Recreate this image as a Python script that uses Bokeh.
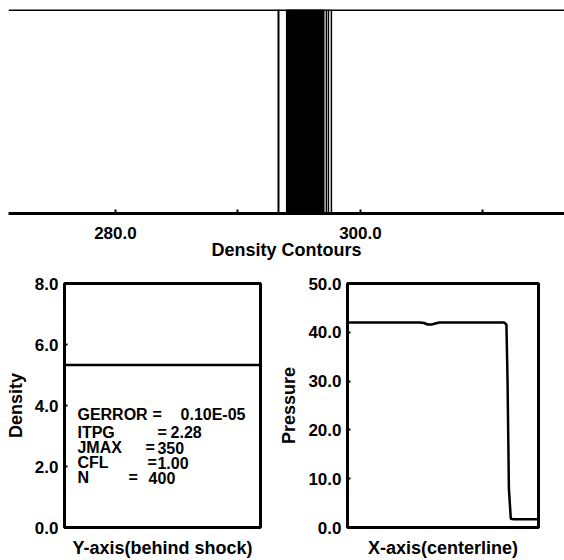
from bokeh.plotting import figure
from bokeh.models import Range1d, FixedTicker, NumeralTickFormatter, Span
from bokeh.layouts import column, row
from bokeh.embed import file_html
from bokeh.resources import INLINE
from bokeh.core.properties import value

# ---------------- data ----------------
# density contour positions (top panel, x in grid units)
contour_x = [293.31, 294.04, 294.15, 294.27, 294.38, 294.50, 294.62, 294.73,
             294.85, 294.97, 295.08, 295.20, 295.32, 295.43, 295.55, 295.67,
             295.78, 295.90, 296.02, 296.13, 296.25, 296.37, 296.48, 296.60,
             296.72, 296.84, 296.95, 297.22, 297.39, 297.63]
top_ticks = [280, 300]
top_minor_ticks = [290, 310]

# density behind shock (bottom-left)
density_x = [0.0, 1.0]
density = [5.33, 5.33]
density_ticks = [0, 2, 4, 6, 8]

# pressure along centerline (bottom-right)
pressure_x = [0.0, 0.38, 0.40, 0.42, 0.44, 0.46, 0.48, 0.82, 0.832, 0.838, 0.845, 0.855, 0.87, 1.0]
pressure = [42.0, 42.0, 41.9, 41.6, 41.6, 41.8, 42.0, 42.0, 41.6, 30.0, 8.0, 1.8, 1.7, 1.7]
pressure_ticks = [0, 10, 20, 30, 40, 50]

info_names = ["GERROR", "ITPG", "JMAX", "CFL", "N"]
info_eq = ["=", "=", "=", "=", "="]
info_values = ["0.10E-05", "2.28", "350", "1.00", "400"]

FONT = "Liberation Sans"

# ---------------- top panel ----------------
p1 = figure(width=564, height=262, x_range=Range1d(271.27, 316.66), y_range=Range1d(0, 1),
            output_backend="svg", toolbar_location=None, y_axis_location=None,
            min_border_left=8, min_border_right=0, min_border_top=9, min_border_bottom=38)
p1.outline_line_color = None
p1.grid.visible = False
contour_w = [2] + [3] * 26 + [1.5, 1.5, 1.5]
p1.segment(x0=contour_x, y0=0, x1=contour_x, y1=1, line_color="black", line_width=contour_w)
p1.add_layout(Span(location=1, dimension="width", line_color="black", line_width=3))
ax = p1.xaxis[0]
ax.ticker = FixedTicker(ticks=top_ticks, minor_ticks=top_minor_ticks)
ax.formatter = NumeralTickFormatter(format="0.0")
ax.axis_line_width = 3
ax.major_tick_in = 4
ax.major_tick_out = 0
ax.minor_tick_in = 4
ax.minor_tick_out = 0
ax.major_tick_line_width = 2
ax.minor_tick_line_width = 2
ax.major_label_standoff = 13
ax.major_label_text_font = FONT
ax.major_label_text_font_style = "bold"
ax.major_label_text_font_size = "17px"
ax.major_label_text_color = "black"
ax.axis_label = "Density Contours"
ax.axis_label_text_font = FONT
ax.axis_label_text_font_style = "bold"
ax.axis_label_text_font_size = "18px"
ax.axis_label_text_color = "black"
ax.axis_label_standoff = -2

def style_small(p, ticks, label, xlabel):
    p.outline_line_color = "black"
    p.outline_line_width = 3
    p.grid.visible = False
    ya = p.yaxis[0]
    ya.ticker = FixedTicker(ticks=ticks)
    ya.formatter = NumeralTickFormatter(format="0.0")
    ya.axis_line_color = None
    ya.major_tick_in = 3
    ya.major_tick_out = 0
    ya.major_tick_line_width = 2
    ya.major_label_standoff = 6
    ya.major_label_text_font = FONT
    ya.major_label_text_font_style = "bold"
    ya.major_label_text_font_size = "17px"
    ya.major_label_text_color = "black"
    ya.axis_label = label
    ya.axis_label_text_font = FONT
    ya.axis_label_text_font_style = "bold"
    ya.axis_label_text_font_size = "18px"
    ya.axis_label_text_color = "black"
    ya.axis_label_standoff = 6
    xa = p.xaxis[0]
    xa.ticker = FixedTicker(ticks=[])
    xa.axis_line_color = None
    xa.major_tick_in = 0
    xa.major_tick_out = 0
    xa.major_label_standoff = 0
    xa.axis_label = xlabel
    xa.axis_label_text_font = FONT
    xa.axis_label_text_font_style = "bold"
    xa.axis_label_text_font_size = "18px"
    xa.axis_label_text_color = "black"
    xa.axis_label_standoff = 10

# ---------------- bottom-left ----------------
p2 = figure(width=276, height=298, x_range=Range1d(0, 1), y_range=Range1d(0, 8),
            output_backend="svg", toolbar_location=None,
            min_border_left=64, min_border_right=16, min_border_top=21, min_border_bottom=32)
style_small(p2, density_ticks, "Density", "Y-axis(behind shock)")
p2.line(density_x, density, line_color="black", line_width=2.5)
info_y = [3.72, 3.13, 2.61, 2.12, 1.63]
name_x = [0.066] * 5
eq_x = [0.449, 0.474, 0.413, 0.423, 0.327]
val_x = [0.592, 0.541, 0.474, 0.474, 0.429]
common = dict(text_font=value(FONT), text_font_size="16px", text_font_style="bold",
              text_baseline="middle", text_align="left", text_color="black")
p2.text(x=name_x, y=info_y, text=info_names, **common)
p2.text(x=eq_x, y=info_y, text=info_eq, **common)
p2.text(x=val_x, y=info_y, text=info_values, **common)

# ---------------- bottom-right ----------------
p3 = figure(width=288, height=298, x_range=Range1d(0, 1), y_range=Range1d(0, 50),
            output_backend="svg", toolbar_location=None,
            min_border_left=68, min_border_right=26, min_border_top=21, min_border_bottom=32)
style_small(p3, pressure_ticks, "Pressure", "X-axis(centerline)")
p3.line(pressure_x, pressure, line_color="black", line_width=2.5)

layout = column(p1, row(p2, p3))
open("out.html", "w").write(file_html(layout, INLINE))
